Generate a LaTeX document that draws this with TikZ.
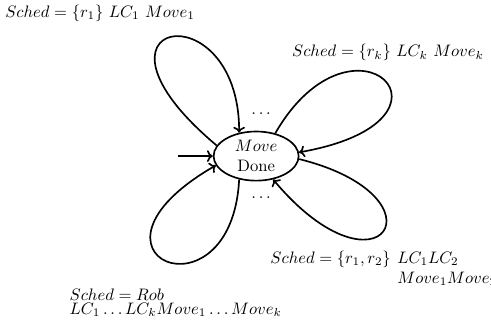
\documentclass[tikz,border=0pt]{standalone}
\usetikzlibrary{positioning, arrows.meta, shapes.geometric}

\begin{document}
\begin{tikzpicture}[
      state/.style={draw, ellipse, line width=1pt, minimum width=1.80cm, minimum height=1.04cm, inner sep=0pt, align=center},
      lbl/.style={draw=none, inner sep=0pt, anchor=base west},
      trans/.style={line width=1pt, -{To[length=3.5pt, width=7pt]}},
    ]
    \useasboundingbox (0,0) rectangle (10.39,6.965);
    \node[state] (done) at (5.42,3.662) {$Move$\\Done};
    \coordinate[left=0.74cm of done.west] (init);
    \node (dotsup) at (5.525,4.55) {$\dots$};
    \node (dotsdown) at (5.525,2.78) {$\dots$};
    % self loops, one per schedule
    \draw[trans] (init) -- (done.west);
    \draw[trans] (done.165) to[out=140, in=90, out distance=4.19cm, in distance=3.07cm] (done.126);
    \draw[trans] (done.50) to[out=60, in=10, out distance=3.32cm, in distance=3.87cm] (done.5);
    \draw[trans] (done.-4) to[out=-14, in=-50, out distance=3.31cm, in distance=3.52cm] (done.-54);
    \draw[trans] (done.234) to[out=267, in=210, out distance=3.11cm, in distance=3.80cm] (done.193);
    % labels
    \node[lbl] (sched1) at (0.106,6.60) {$Sched = \{r_1\}\ LC_1\ Move_1$};
    \node[lbl] (schedk) at (6.175,5.765) {$Sched = \{r_k\}\ LC_k\ Move_k$};
    \node[lbl] (sched12) at (5.716,1.391) {\begin{tabular}[t]{@{}l@{\hspace{4pt}}l@{}}
      $Sched = \{r_1, r_2\}$ & $LC_1LC_2$\\
      & $Move_1Move_2$
    \end{tabular}};
    \node[lbl] (schedrob) at (1.467,0.60) {\begin{tabular}[t]{@{}l@{}}
      $Sched = Rob$\\[-3.75pt]
      $LC_1\dots LC_k Move_1\dots Move_k$
    \end{tabular}};
  \end{tikzpicture}
\end{document}
